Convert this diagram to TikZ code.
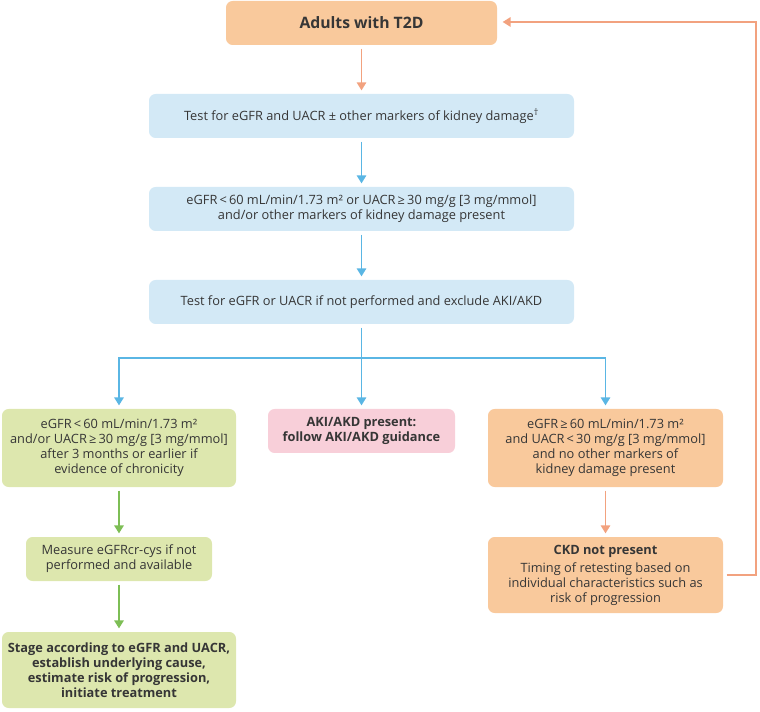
\documentclass[tikz,border=0pt]{standalone}
\usepackage{fontspec}
\setmainfont{Open Sans}
\usetikzlibrary{arrows.meta}
\definecolor{orfill}{HTML}{F9C99C}
\definecolor{orline}{HTML}{F2A27F}
\definecolor{blfill}{HTML}{D3E9F6}
\definecolor{blline}{HTML}{5AB6E4}
\definecolor{grfill}{HTML}{DDE7AE}
\definecolor{grline}{HTML}{7DBE55}
\definecolor{pkfill}{HTML}{F8CFD9}
\definecolor{txt}{HTML}{363636}
\begin{document}
\begin{tikzpicture}[x=0.75pt,y=-0.75pt,
  box/.style={rounded corners=5pt, inner sep=0pt, align=center, text=txt,
    font=\fontsize{9.6}{11.2}\selectfont},
  orbox/.style={box, fill=orfill},
  blbox/.style={box, fill=blfill},
  grbox/.style={box, fill=grfill},
  pkbox/.style={box, fill=pkfill},
  conn/.style={line width=1.4pt, -{Triangle[width=7pt,length=6pt]}, shorten >=2.5pt, shorten <=2.5pt},
  plain/.style={line width=1.4pt},
]
\useasboundingbox (0,0) rectangle (760,712);

\node[orbox, minimum width=271*0.75pt, minimum height=44*0.75pt,
  font=\fontsize{11.8}{14}\selectfont\bfseries] (top) at (361.5,23) {Adults with T2D};
\node[blbox, minimum width=425*0.75pt, minimum height=44*0.75pt] (t1) at (361.5,116)
  {Test for eGFR and UACR ± other markers of kidney damage\textsuperscript{†}};
\node[blbox, minimum width=425*0.75pt, minimum height=44*0.75pt] (t2) at (361.5,209)
  {eGFR\,<\,60 mL/min/1.73 m² or UACR\,≥\,30 mg/g [3 mg/mmol]\\and/or other markers of kidney damage present};
\node[blbox, minimum width=425*0.75pt, minimum height=44*0.75pt] (t3) at (361.5,302)
  {Test for eGFR or UACR if not performed and exclude AKI/AKD};

\node[grbox, minimum width=234*0.75pt, minimum height=78*0.75pt] (g1) at (119,448)
  {eGFR\,<\,60 mL/min/1.73 m²\\and/or UACR\,≥\,30 mg/g [3 mg/mmol]\\after 3 months or earlier if\\evidence of chronicity};
\node[pkbox, minimum width=187*0.75pt, minimum height=44*0.75pt, font=\fontsize{9.6}{11.2}\selectfont\bfseries] (pk) at (361.5,431)
  {AKI/AKD present:\\follow AKI/AKD guidance};
\node[orbox, minimum width=235*0.75pt, minimum height=78*0.75pt] (o1) at (605.5,448)
  {eGFR\,≥\,60 mL/min/1.73 m²\\and UACR\,<\,30 mg/g [3 mg/mmol]\\and no other markers of\\kidney damage present};

\node[grbox, minimum width=186*0.75pt, minimum height=44*0.75pt] (g2) at (119,559)
  {Measure eGFRcr-cys if not\\performed and available};
\node[grbox, minimum width=234*0.75pt, minimum height=76*0.75pt, font=\fontsize{9.6}{11.2}\selectfont\bfseries] (g3) at (119,670)
  {Stage according to eGFR and UACR,\\establish underlying cause,\\estimate risk of progression,\\initiate treatment};
\node[orbox, minimum width=235*0.75pt, minimum height=76*0.75pt] (ckd) at (605.5,575)
  {\textbf{CKD not present}\\[2.5pt]Timing of retesting based on\\individual characteristics such as\\risk of progression};

\coordinate (bl) at (119,358);
\coordinate (bm) at (361.5,358);
\coordinate (br) at (605.5,358);
\coordinate (fbr) at (756,575);
\coordinate (fbt) at (756,22);

\draw[conn, orline] (top) -- (t1);
\draw[conn, blline] (t1) -- (t2);
\draw[conn, blline] (t2) -- (t3);
\draw[conn, blline] (t3) -- (pk);
\draw[plain, blline, line cap=rect] (bl) -- (br);
\draw[conn, blline, shorten <=0pt] (bl) -- (g1);
\draw[conn, blline, shorten <=0pt] (br) -- (o1);
\draw[conn, grline] (g1) -- (g2);
\draw[conn, grline] (g2) -- (g3);
\draw[conn, orline] (o1) -- (ckd);
\draw[conn, orline, shorten >=4pt] (ckd.east) -- (fbr) -- (fbt) -- (top.east |- fbt);
\end{tikzpicture}
\end{document}
